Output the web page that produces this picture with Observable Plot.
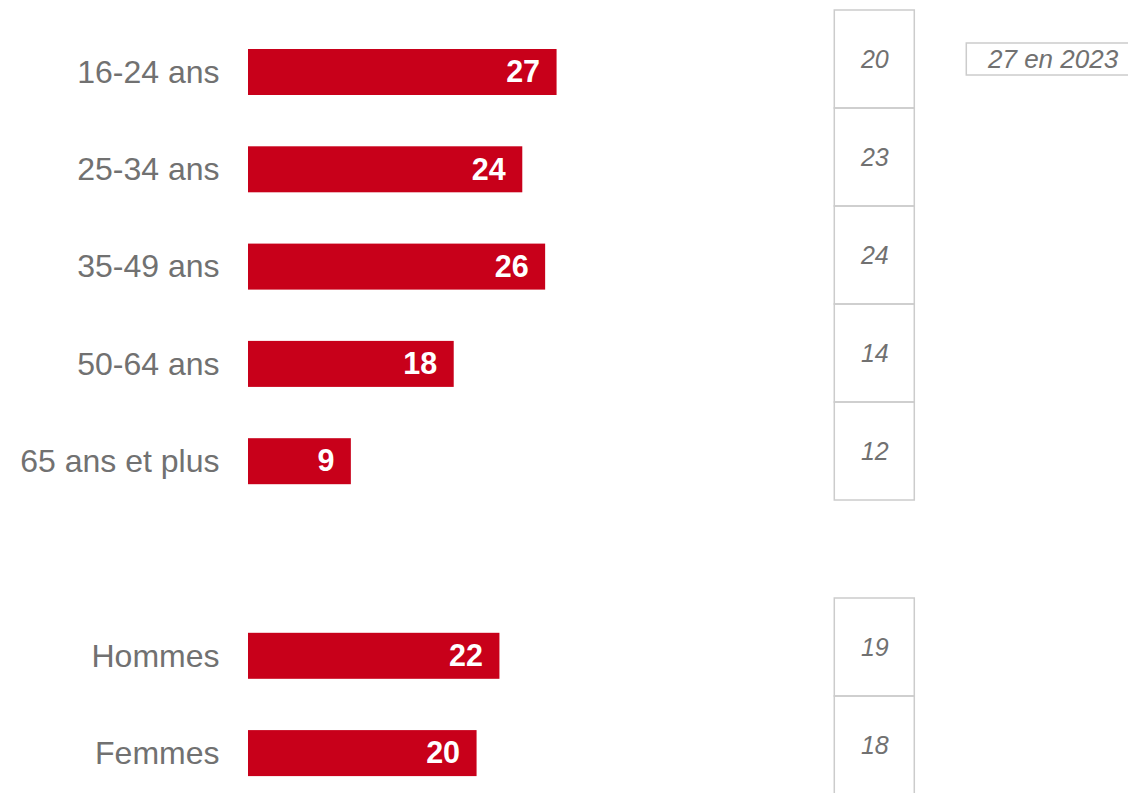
<!DOCTYPE html>
<html>
<head>
<meta charset="utf-8">
<script src="https://cdn.jsdelivr.net/npm/d3@7"></script>
<script src="https://cdn.jsdelivr.net/npm/@observablehq/plot@0.6"></script>
<style>
  html, body { margin: 0; padding: 0; background: #fff; }
  #chart { position: relative; width: 1128px; height: 793px; overflow: hidden; }
  #chart svg { position: absolute; top: 0; left: 0; }
</style>
</head>
<body>
<div id="chart"></div>
<script>
// Categories (with a blank slot separating age groups from sex)
const categories = ["16-24 ans", "25-34 ans", "35-49 ans", "50-64 ans", "65 ans et plus", "Hommes", "Femmes"];
const gapKey = "__gap__";
const slots = ["16-24 ans", "25-34 ans", "35-49 ans", "50-64 ans", "65 ans et plus", gapKey, "Hommes", "Femmes"];
// Current values (bars)
const values = [27, 24, 26, 18, 9, 22, 20];
// Previous values (boxed column)
const previous = [20, 23, 24, 14, 12, 19, 18];
// Annotation
const noteText = "27 en 2023";
const noteCategory = "16-24 ans";

const bars = categories.map((c, i) => ({cat: c, value: values[i]}));
const prev = categories.map((c, i) => ({cat: c, value: previous[i]}));

const red = "#c8001a";
const grey = "#717171";
const boxStroke = "#cccccc";
const fontFamily = "'Liberation Sans', Arial, sans-serif";
const xMax = 77;
const boxX1 = 51.3, boxX2 = 58.3, boxXc = (boxX1 + boxX2) / 2;
const noteX1 = 62.85, noteX2 = 78, noteXc = 70.4;

// Bars layout
const step = 97.3;
const barH = 46;
const pad = 1 - barH / step;
const yStart = 49 - (pad / 2) * step;

const base = {
  width: 1128,
  height: 793,
  marginLeft: 248,
  marginRight: 0,
  marginTop: 0,
  marginBottom: 0,
  style: {fontFamily, background: "transparent"},
  x: {domain: [0, xMax], range: [248, 1128], axis: null}
};

const barsPlot = Plot.plot({
  ...base,
  style: {fontFamily, background: "#fff"},
  y: {
    domain: slots,
    range: [yStart, yStart + step * slots.length],
    paddingInner: pad,
    paddingOuter: pad / 2,
    align: 0.5,
    round: false,
    axis: null
  },
  marks: [
    Plot.axisY({
      ticks: categories,
      tickSize: 0,
      tickPadding: 29,
      fontSize: 32,
      color: grey,
      label: null
    }),
    Plot.barX(bars, {x: "value", y: "cat", fill: red}),
    Plot.text(bars, {
      x: "value", y: "cat", text: d => String(d.value),
      textAnchor: "end", dx: -17, fill: "white",
      fontSize: 30.5, fontWeight: "bold"
    })
  ]
});

// Boxed column: its own continuous grid of cells
const cellStep = 98;
const cellStart = 10;
const noteH = 32;

const boxPlot = Plot.plot({
  ...base,
  y: {
    domain: slots,
    range: [cellStart, cellStart + cellStep * slots.length],
    paddingInner: 0,
    paddingOuter: 0,
    round: false,
    axis: null
  },
  marks: [
    Plot.rect(prev, {
      x1: () => boxX1, x2: () => boxX2, y: "cat",
      fill: "none", stroke: boxStroke, strokeWidth: 1.5
    }),
    Plot.text(prev, {
      x: () => boxXc, y: "cat", text: d => String(d.value),
      fill: grey, fontSize: 25, fontStyle: "italic"
    }),
    Plot.rect([{cat: noteCategory}], {
      x1: () => noteX1, x2: () => noteX2, y: "cat",
      insetTop: (cellStep - noteH) / 2, insetBottom: (cellStep - noteH) / 2,
      fill: "none", stroke: boxStroke, strokeWidth: 1.5
    }),
    Plot.text([{cat: noteCategory}], {
      x: () => noteXc, y: "cat", text: () => noteText,
      fill: grey, fontSize: 26, fontStyle: "italic"
    })
  ]
});

const container = document.getElementById("chart");
container.appendChild(barsPlot);
container.appendChild(boxPlot);
</script>
</body>
</html>
